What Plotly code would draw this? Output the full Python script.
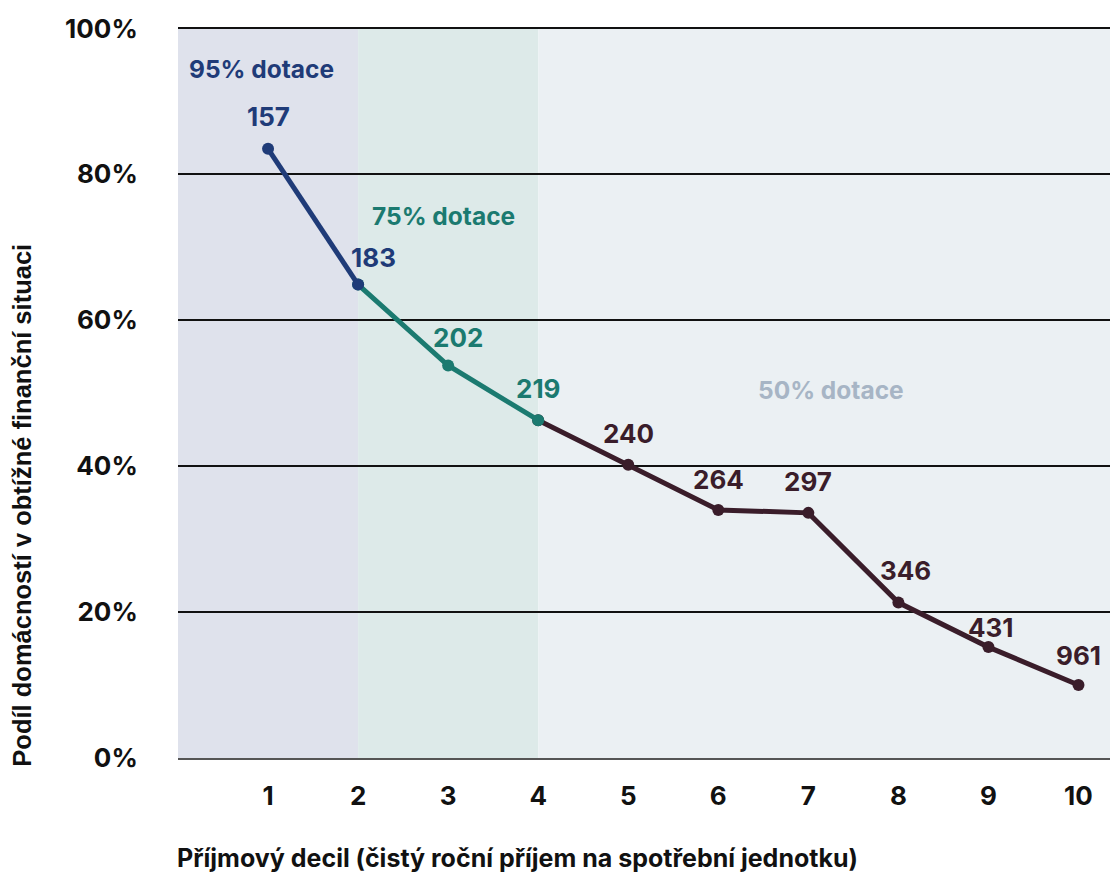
import plotly.graph_objects as go

deciles = [1, 2, 3, 4, 5, 6, 7, 8, 9, 10]
share = [83.5, 64.9, 53.8, 46.3, 40.2, 34.0, 33.6, 21.3, 15.2, 10.0]
income = ["157", "183", "202", "219", "240", "264", "297", "346", "431", "961"]
tick_vals_y = [0, 20, 40, 60, 80, 100]
tick_text_y = ["0%", "20%", "40%", "60%", "80%", "100%"]

zones = ["95% dotace", "75% dotace", "50% dotace"]
zone_bounds = [(0, 2), (2, 4), (4, 10.35)]
zone_label_x = [0.93, 2.95, 7.25]
zone_label_y = [94.5, 74.3, 50.4]

x_title = "Příjmový decil (čistý roční příjem na spotřební jednotku)"
y_title = "Podíl domácností v obtížné finanční situaci"

BLUE = "#1f3b78"
TEAL = "#1b7a70"
MAROON = "#3a1d2a"
zone_fill = ["#dfe2ec", "#ddeae9", "#ebf0f3"]
zone_text = [BLUE, TEAL, "#a7b5c5"]

FONT = "Inter"
FS = 24.5
FS_NUM = 26

fig = go.Figure()

segments = [(3, 9, MAROON), (1, 3, TEAL), (0, 1, BLUE)]
for a, b, col in segments:
    fig.add_trace(go.Scatter(
        x=deciles[a:b + 1], y=share[a:b + 1], mode="lines+markers",
        line=dict(color=col, width=5), marker=dict(color=col, size=12),
        showlegend=False, hoverinfo="skip"))

for i, (x0, x1) in enumerate(zone_bounds):
    fig.add_shape(type="rect", xref="x", yref="y", x0=x0, x1=x1, y0=0, y1=100,
                  fillcolor=zone_fill[i], line=dict(width=0), layer="below")
    fig.add_annotation(x=zone_label_x[i], y=zone_label_y[i], text=zones[i], showarrow=False,
                       font=dict(family=FONT, size=FS, color=zone_text[i], weight=700))

label_col = [BLUE, BLUE, TEAL, TEAL] + [MAROON] * 6
xshift = [0, 15, 10, 0, 0, 0, 0, 7, 3, 0]
yshift = [32, 27, 28, 32, 31, 30, 31, 32, 20, 30]
for i in range(10):
    fig.add_annotation(x=deciles[i], y=share[i], text=income[i], showarrow=False,
                       xshift=xshift[i], yshift=yshift[i],
                       font=dict(family=FONT, size=FS_NUM, color=label_col[i], weight=700))

# axis titles placed as annotations (they are not centred on the plot in the reference)
fig.add_annotation(xref="paper", yref="paper", x=(517 - 178) / 932, y=-(858 - 758) / 730,
                   text=x_title, showarrow=False, xanchor="center", yanchor="middle",
                   font=dict(family=FONT, size=25, color="#111111", weight=700))
fig.add_annotation(xref="paper", yref="paper", x=-(178 - 22) / 932, y=(758 - 506) / 730,
                   text=y_title, showarrow=False, textangle=-90, xanchor="center", yanchor="middle",
                   font=dict(family="Liberation Sans", size=25.5, color="#111111", weight=700))

fig.update_layout(
    width=1110, height=872,
    margin=dict(l=178, r=0, t=27, b=114),
    paper_bgcolor="white", plot_bgcolor="white",
    font=dict(family=FONT, color="#111111"),
    xaxis=dict(range=[0, 10.35], tickvals=deciles, ticktext=[str(d) for d in deciles],
               showgrid=False, zeroline=False, showline=True, linecolor="#555555", linewidth=2,
               ticks="outside", ticklen=14, tickcolor="rgba(0,0,0,0)",
               tickfont=dict(family=FONT, size=FS_NUM, color="#111111", weight=700)),
    yaxis=dict(range=[0, 100.2], tickvals=tick_vals_y, ticktext=tick_text_y,
               showgrid=True, gridcolor="#111111", gridwidth=1.8, zeroline=False,
               ticks="outside", ticklen=34, tickcolor="rgba(0,0,0,0)",
               tickfont=dict(family=FONT, size=FS_NUM, color="#111111", weight=700)),
)

fig.write_html("out.html")
